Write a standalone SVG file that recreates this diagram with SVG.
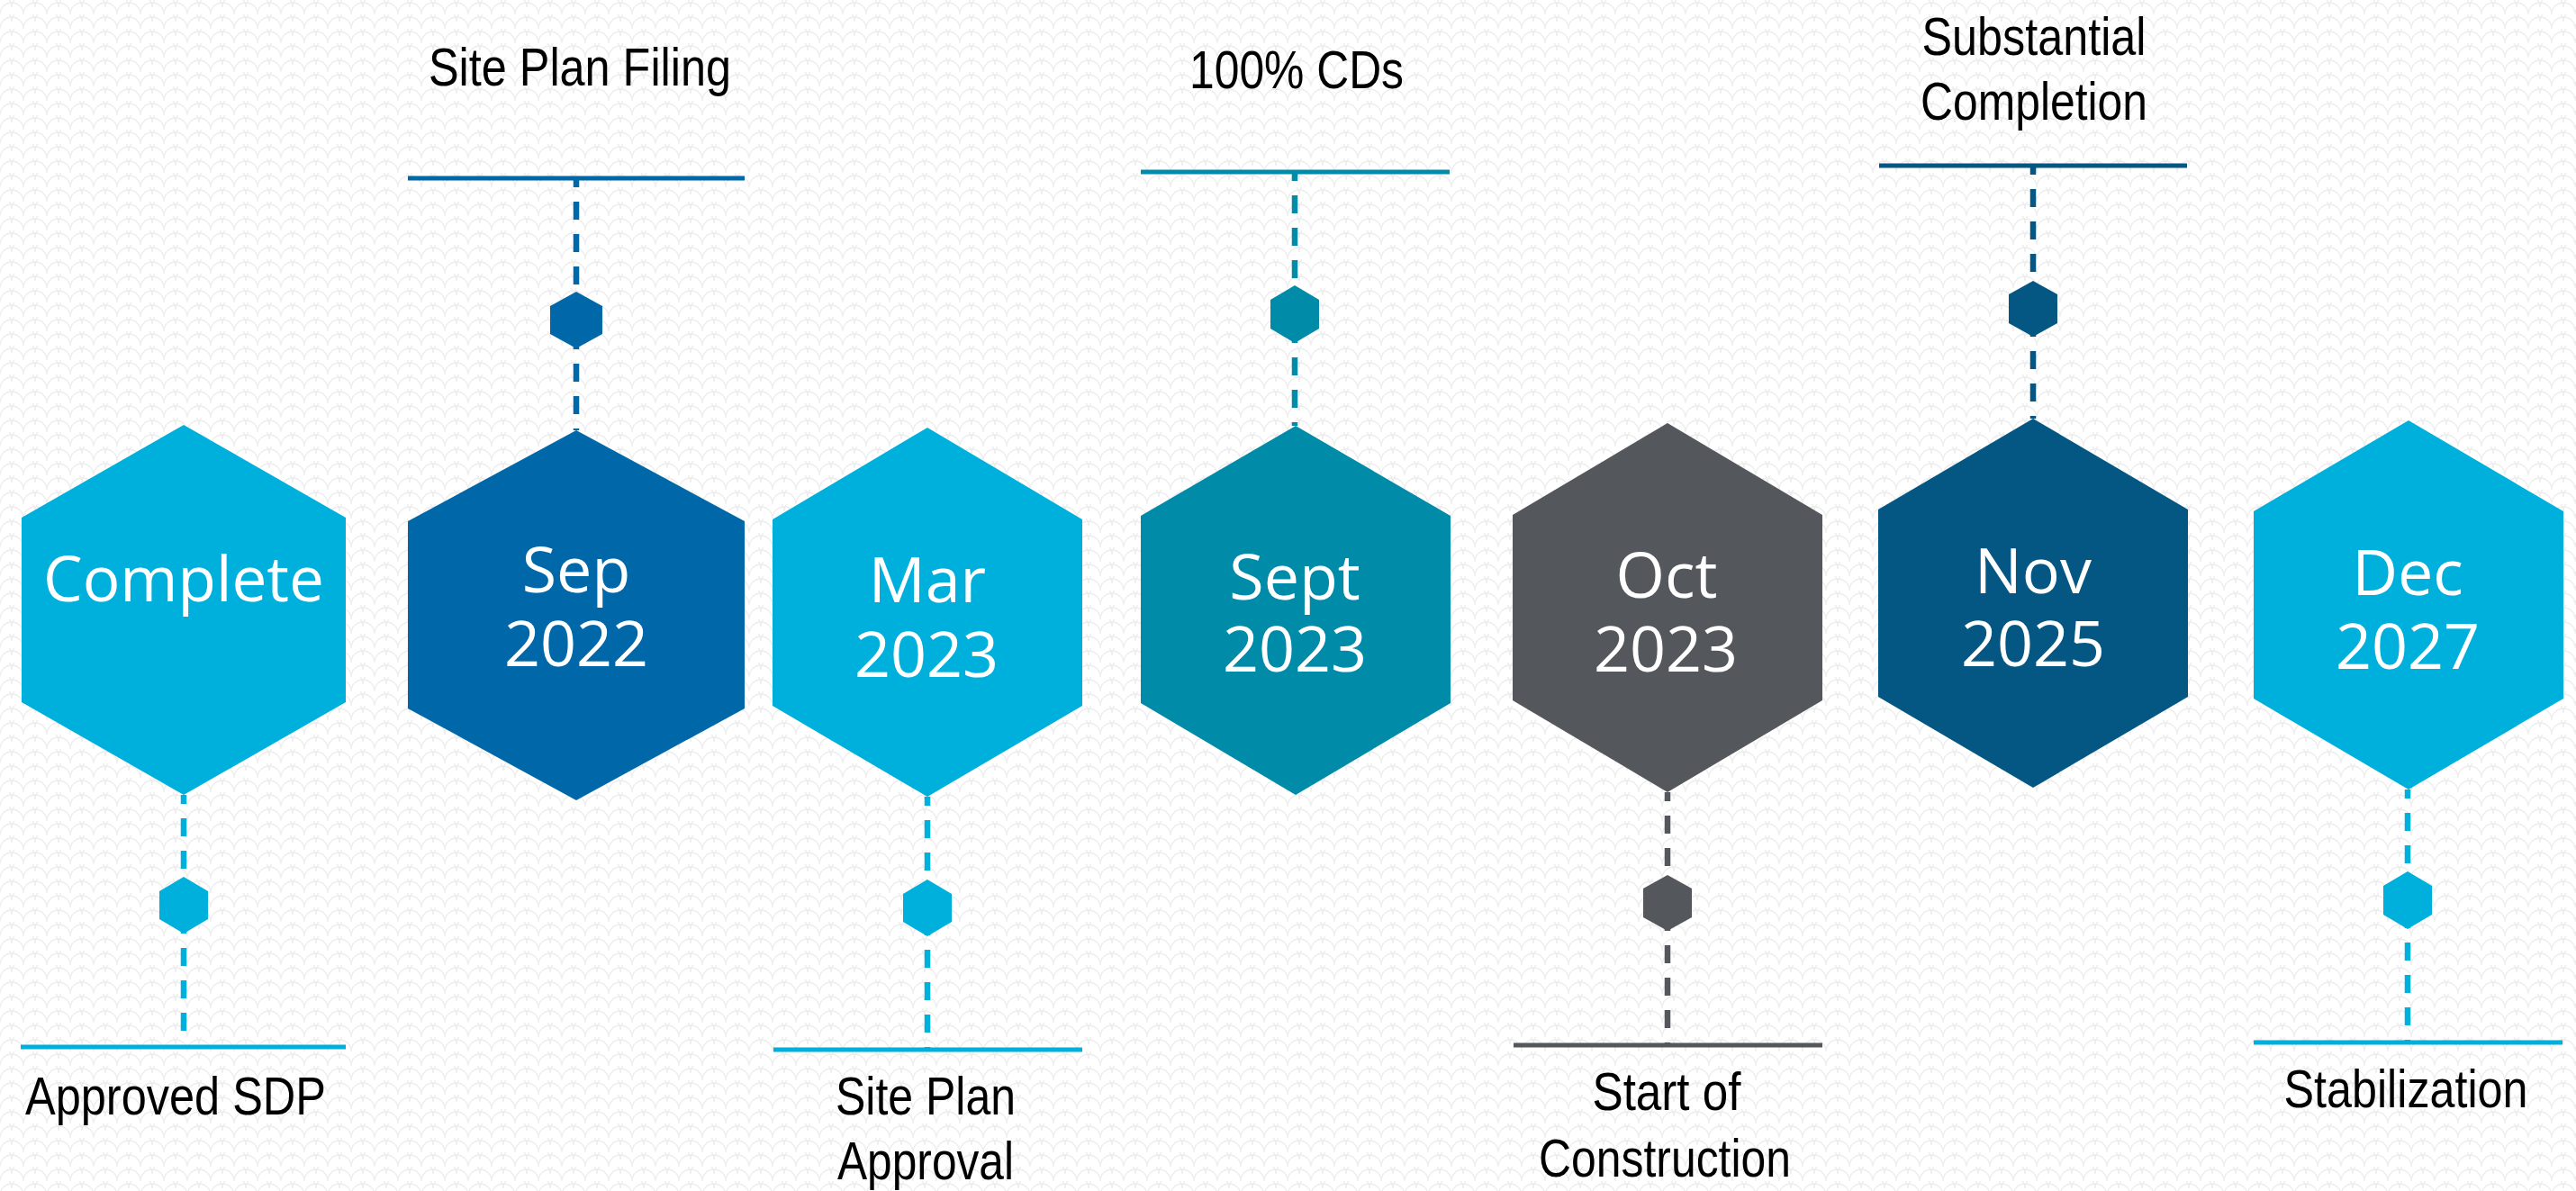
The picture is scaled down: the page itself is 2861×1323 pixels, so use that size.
<svg xmlns="http://www.w3.org/2000/svg" width="2861" height="1323" viewBox="0 0 2861 1323">
  <defs>
    <pattern id="scales" width="26" height="16" patternUnits="userSpaceOnUse">
      <path d="M0 16 A13 13 0 0 1 26 16 M-13 8 A13 13 0 0 1 13 8 M13 8 A13 13 0 0 1 39 8" fill="none" stroke="#ededed" stroke-width="1.3"/>
    </pattern>
  </defs>
  <style>
    .lbl { font-family: "Liberation Sans", Arial, sans-serif; font-size: 60px; fill: #000; text-anchor: middle; }
    .hx { font-family: "Open Sans", "DejaVu Sans", sans-serif; font-size: 70px; font-weight: 500; fill: #fff; text-anchor: middle; }
    .bar { stroke-width: 5; }
    .dash { stroke-width: 6.5; stroke-dasharray: 20 16; fill: none; }
    .cyan { fill: #00B0DC; }
    .blue { fill: #0068A8; }
    .teal { fill: #008BA8; }
    .grey { fill: #54575B; }
    .navy { fill: #045782; }
    .s-cyan { stroke: #00B0DC; }
    .s-blue { stroke: #0068A8; }
    .s-teal { stroke: #008BA8; }
    .s-grey { stroke: #54575B; }
    .s-navy { stroke: #045782; }
  </style>
  <rect width="2861" height="1323" fill="#ffffff"/>
  <rect width="2861" height="1323" fill="url(#scales)"/>

  <g id="connectors">
    <!-- Complete (bottom) -->
    <line class="dash s-cyan" x1="204" y1="883" x2="204" y2="1163" stroke-dashoffset="10"/>
    <line class="bar s-cyan" x1="23" y1="1163" x2="384" y2="1163"/>
    <polygon class="cyan" points="204,974 231,990 231,1021 204,1037 177,1021 177,990"/>
    <!-- Sep 2022 (top) -->
    <line class="dash s-blue" x1="640" y1="198" x2="640" y2="478" stroke-dashoffset="10"/>
    <line class="bar s-blue" x1="453" y1="198" x2="827" y2="198"/>
    <polygon class="blue" points="640,324 669,340 669,371 640,387 611,371 611,340"/>
    <!-- Mar 2023 (bottom) -->
    <line class="dash s-cyan" x1="1030" y1="885" x2="1030" y2="1166" stroke-dashoffset="10"/>
    <line class="bar s-cyan" x1="859" y1="1166" x2="1202" y2="1166"/>
    <polygon class="cyan" points="1030,977 1057,993 1057,1024 1030,1040 1003,1024 1003,993"/>
    <!-- Sept 2023 (top) -->
    <line class="dash s-teal" x1="1438" y1="191" x2="1438" y2="473" stroke-dashoffset="10"/>
    <line class="bar s-teal" x1="1267" y1="191" x2="1610" y2="191"/>
    <polygon class="teal" points="1438,317 1465,333 1465,365 1438,381 1411,365 1411,333"/>
    <!-- Oct 2023 (bottom) -->
    <line class="dash s-grey" x1="1852" y1="880" x2="1852" y2="1161" stroke-dashoffset="10"/>
    <line class="bar s-grey" x1="1681" y1="1161" x2="2024" y2="1161"/>
    <polygon class="grey" points="1852,972 1879,987 1879,1019 1852,1034 1825,1019 1825,987"/>
    <!-- Nov 2025 (top) -->
    <line class="dash s-navy" x1="2258" y1="184" x2="2258" y2="465" stroke-dashoffset="10"/>
    <line class="bar s-navy" x1="2087" y1="184" x2="2429" y2="184"/>
    <polygon class="navy" points="2258,312 2285,327 2285,359 2258,374 2231,359 2231,327"/>
    <!-- Dec 2027 (bottom) -->
    <line class="dash s-cyan" x1="2674" y1="877" x2="2674" y2="1158" stroke-dashoffset="10"/>
    <line class="bar s-cyan" x1="2503" y1="1158" x2="2846" y2="1158"/>
    <polygon class="cyan" points="2674,968 2701,984 2701,1016 2674,1032 2647,1016 2647,984"/>
  </g>

  <g id="node-complete">
    <polygon class="cyan" points="204,472 384,575 384,780 204,883 24,780 24,575"/>
    <text class="hx" x="204" y="668" textLength="312" lengthAdjust="spacingAndGlyphs">Complete</text>
    <text class="lbl" x="195" y="1238" textLength="334" lengthAdjust="spacingAndGlyphs">Approved SDP</text>
  </g>

  <g id="node-sep-2022">
    <polygon class="blue" points="640,478 827,579 827,787 640,889 453,787 453,579"/>
    <text class="hx"><tspan x="640" y="658">Sep</tspan><tspan x="640" y="740">2022</tspan></text>
    <text class="lbl" x="644" y="95" textLength="336" lengthAdjust="spacingAndGlyphs">Site Plan Filing</text>
  </g>

  <g id="node-mar-2023">
    <polygon class="cyan" points="1030,475 1202,577 1202,784 1030,885 858,784 858,577"/>
    <text class="hx"><tspan x="1030" y="669">Mar</tspan><tspan x="1029" y="752">2023</tspan></text>
    <text class="lbl" x="1028" y="1238" textLength="200" lengthAdjust="spacingAndGlyphs">Site Plan</text>
    <text class="lbl" x="1028" y="1310" textLength="196" lengthAdjust="spacingAndGlyphs">Approval</text>
  </g>

  <g id="node-sept-2023">
    <polygon class="teal" points="1439,473 1611,573 1611,781 1439,883 1267,781 1267,573"/>
    <text class="hx"><tspan x="1438" y="666">Sept</tspan><tspan x="1438" y="746">2023</tspan></text>
    <text class="lbl" x="1440" y="98" textLength="238" lengthAdjust="spacingAndGlyphs">100% CDs</text>
  </g>

  <g id="node-oct-2023">
    <polygon class="grey" points="1852,470 2024,572 2024,778 1852,880 1680,778 1680,572"/>
    <text class="hx"><tspan x="1851" y="664">Oct</tspan><tspan x="1850" y="746">2023</tspan></text>
    <text class="lbl" x="1851" y="1233" textLength="165" lengthAdjust="spacingAndGlyphs">Start of</text>
    <text class="lbl" x="1849" y="1307" textLength="280" lengthAdjust="spacingAndGlyphs">Construction</text>
  </g>

  <g id="node-nov-2025">
    <polygon class="navy" points="2258,465 2430,566 2430,774 2258,875 2086,774 2086,566"/>
    <text class="hx"><tspan x="2258" y="659">Nov</tspan><tspan x="2258" y="740">2025</tspan></text>
    <text class="lbl" x="2259" y="61" textLength="249" lengthAdjust="spacingAndGlyphs">Substantial</text>
    <text class="lbl" x="2259" y="133" textLength="252" lengthAdjust="spacingAndGlyphs">Completion</text>
  </g>

  <g id="node-dec-2027">
    <polygon class="cyan" points="2675,467 2847,568 2847,776 2675,877 2503,776 2503,568"/>
    <text class="hx"><tspan x="2674" y="661">Dec</tspan><tspan x="2674" y="743">2027</tspan></text>
    <text class="lbl" x="2672" y="1230" textLength="271" lengthAdjust="spacingAndGlyphs">Stabilization</text>
  </g>
</svg>
